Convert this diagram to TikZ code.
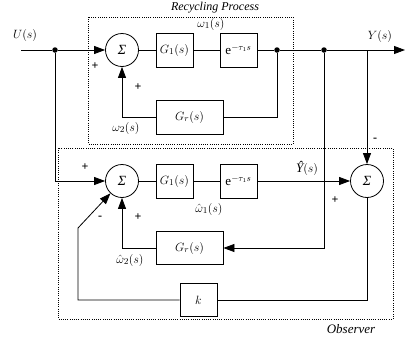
\documentclass[tikz,border=0pt]{standalone}
\usepackage{fontspec}
\setmainfont{Liberation Serif}
\usetikzlibrary{arrows.meta,calc}
\begin{document}
\begin{tikzpicture}[x=1pt,y=-1pt,
  line width=0.8pt,
  font=\fontsize{13}{15}\selectfont,
  sumnode/.style={draw,circle,minimum size=33pt,inner sep=0pt,font=\fontsize{14}{16}\selectfont\itshape},
  blk/.style={draw,rectangle,minimum height=34pt,inner sep=0pt},
  dotnode/.style={circle,fill,minimum size=5.5pt,inner sep=0pt},
  arr/.style={-{Triangle[length=11pt,width=8pt]}},
  frame/.style={draw,line width=0.6pt,dash pattern=on 1pt off 1.2pt},
  sgn/.style={font=\fontsize{12}{14}\selectfont\bfseries}]
\useasboundingbox (0,0) rectangle (405,343);
% frames
\draw[frame] (88,17) rectangle (293,144);
\draw[frame] (58,148) rectangle (393,319);
\node[anchor=north,inner sep=0.5pt,font=\fontsize{12}{14}\selectfont\itshape] at (215,1) {Recycling Process};
\node at (351,329) {\itshape Observer};
% top row
\coordinate (in) at (21,50);
\coordinate (out) at (405,50);
\node[dotnode] (d1) at (55,50) {};
\node[sumnode] (sA) at (122,50) {Σ};
\node[blk,minimum width=37pt] (gA) at (174.5,50) {$G_1(s)$};
\node[blk,minimum width=37pt] (eA) at (238.5,50) {$\mathrm{e}^{-\tau_1 s}$};
\node[dotnode] (d2) at (277,50) {};
\node[dotnode] (d3) at (324,50) {};
\coordinate (yt) at (367,50);
\node[blk,minimum width=67pt] (grA) at (189.5,117) {$G_r(s)$};
% bottom
\node[sumnode] (sB) at (122,181) {Σ};
\node[blk,minimum width=37pt] (gB) at (174.5,181) {$G_1(s)$};
\node[blk,minimum width=37pt] (eB) at (238.5,181) {$\mathrm{e}^{-\tau_1 s}$};
\node[sumnode] (sC) at (367,181) {Σ};
\node[blk,minimum width=67pt,minimum height=33pt] (grB) at (189.5,248) {$G_r(s)$};
\node[blk,minimum width=37pt,minimum height=33pt] (kb) at (198.5,300) {$k$};
\coordinate (dg) at (78,228);
% connectors top
\draw[arr] (in) -- (d1) -- (sA);
\draw (sA) -- (gA);
\draw (gA) -- (eA);
\draw[arr] (eA) -- (d2) -- (d3) -- (out);
\draw (d2) |- (grA.east);
\draw[arr] (grA.west) -| (sA.south);
% connectors bottom
\draw[arr] (d1) |- (sB.west);
\draw (sB) -- (gB);
\draw (gB) -- (eB);
\draw[arr] (eB) -- (sC.west);
\draw[arr] (yt) -- (sC.north);
\draw[arr] (d3) |- (grB.east);
\draw[arr] (grB.west) -| (sB.south);
\draw (sC.south) |- (kb.east);
\draw[arr] (kb.west) -| (dg) -- (sB);
% labels
\node at (25,35) {$U(s)$};
\node at (380,36) {$Y(s)$};
\node at (211,24) {$\omega_1(s)$};
\node at (126,128) {$\omega_2(s)$};
\node[anchor=south,inner sep=0.5pt] at (307,176) {{\itshape Ŷ}$(s)$};
\node at (209,209) {$\hat{\omega}_1(s)$};
\node at (130,260) {$\hat{\omega}_2(s)$};
\node[sgn] at (95,66) {+};
\node[sgn] at (138,87) {+};
\node[sgn] at (85,167) {+};
\node[sgn] at (138,217) {+};
\node[sgn] at (100,218) {-};
\node[sgn] at (335,200) {+};
\node[sgn] at (375,140) {-};
\end{tikzpicture}
\end{document}
